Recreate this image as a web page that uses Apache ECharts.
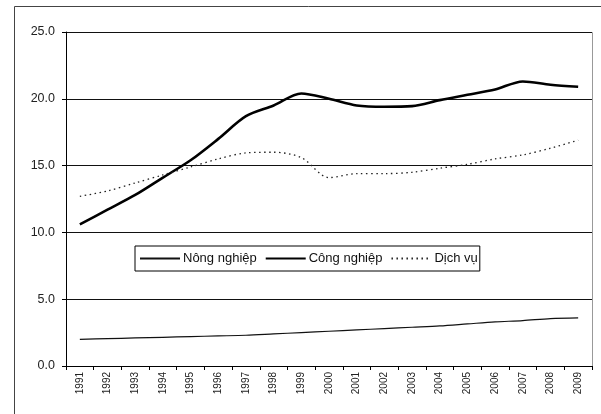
<!DOCTYPE html>
<html>
<head>
<meta charset="utf-8">
<script src="https://cdn.jsdelivr.net/npm/echarts@6/dist/echarts.min.js"></script>
<style>
  html, body { margin: 0; padding: 0; background: #fff; }
  #chart { width: 601px; height: 414px; }
</style>
</head>
<body>
<div id="chart"></div>
<script>
var years = ['1991','1992','1993','1994','1995','1996','1997','1998','1999','2000',
             '2001','2002','2003','2004','2005','2006','2007','2008','2009'];
var nongNghiep = [2.0, 2.05, 2.1, 2.15, 2.2, 2.25, 2.3, 2.4, 2.5, 2.6,
                  2.7, 2.8, 2.9, 3.0, 3.15, 3.3, 3.4, 3.55, 3.6];
var congNghiep = [10.6, 11.7, 12.8, 14.1, 15.4, 17.0, 18.7, 19.5, 20.4, 20.0,
                  19.5, 19.4, 19.45, 19.9, 20.3, 20.7, 21.3, 21.05, 20.9];
var dichVu = [12.7, 13.1, 13.7, 14.3, 14.9, 15.5, 15.95, 16.0, 15.6, 14.1,
              14.4, 14.4, 14.5, 14.8, 15.1, 15.5, 15.8, 16.3, 16.9];

var chart = echarts.init(document.getElementById('chart'));
var option = {
    animation: false,
    textStyle: { fontFamily: 'Liberation Sans, Arial, sans-serif' },
    graphic: [{
        type: 'rect',
        shape: { x: 14.5, y: 6.5, width: 600, height: 420 },
        style: { fill: 'none', stroke: '#444', lineWidth: 1 },
        silent: true
    }, {
        type: 'rect',
        shape: { x: 66.5, y: 32.5, width: 526, height: 334 },
        style: { fill: 'none', stroke: '#999', lineWidth: 1 },
        silent: true
    }],
    legend: {
        left: 135,
        top: 246,
        itemWidth: 40,
        itemHeight: 8,
        itemGap: 8,
        padding: [6, 2, 6, 4],
        borderColor: '#000',
        borderWidth: 1,
        backgroundColor: '#fff',
        itemStyle: { opacity: 0 },
        textStyle: { fontSize: 13, color: '#111', padding: [0, 0, 0, -2] },
        data: ['Nông nghiệp', 'Công nghiệp', 'Dịch vụ']
    },
    grid: { left: 66, right: 9, top: 32, bottom: 48, containLabel: false },
    xAxis: {
        type: 'category',
        data: years,
        boundaryGap: true,
        axisLine: { lineStyle: { color: '#000', width: 1 } },
        axisTick: { show: true, alignWithLabel: false, length: 4, lineStyle: { color: '#000' } },
        axisLabel: { rotate: 90, fontSize: 10, color: '#222', margin: 6 }
    },
    yAxis: {
        type: 'value',
        min: 0,
        max: 25,
        interval: 5,
        axisLine: { show: true, lineStyle: { color: '#000', width: 1 } },
        axisTick: { show: true, length: 4, lineStyle: { color: '#000' } },
        axisLabel: {
            fontSize: 12.5, color: '#222', margin: 11,
            formatter: function (v) { return v.toFixed(1); }
        },
        splitLine: { lineStyle: { color: '#111', width: 1 } }
    },
    series: [{
        name: 'Nông nghiệp',
        type: 'line',
        data: nongNghiep,
        symbol: 'none',
        smooth: 0.3,
        lineStyle: { color: '#111', width: 1.2 },
        itemStyle: { color: '#111' }
    }, {
        name: 'Công nghiệp',
        type: 'line',
        data: congNghiep,
        symbol: 'none',
        smooth: 0.3,
        lineStyle: { color: '#000', width: 2.6 },
        itemStyle: { color: '#000' }
    }, {
        name: 'Dịch vụ',
        type: 'line',
        data: dichVu,
        symbol: 'none',
        smooth: 0.3,
        lineStyle: { color: '#222', width: 1.3, type: [1.5, 3.5] },
        itemStyle: { color: '#222' }
    }]
};
chart.setOption(option);
</script>
</body>
</html>
